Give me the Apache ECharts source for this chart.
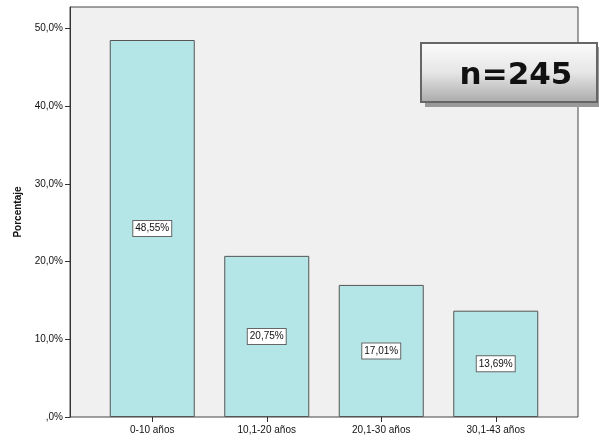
<!DOCTYPE html>
<html><head><meta charset="utf-8">
<script src="https://cdn.jsdelivr.net/npm/echarts@6/dist/echarts.min.js"></script>
<style>html,body{margin:0;padding:0;background:#fff}#c{width:599px;height:440px}</style>
</head><body><div id="c"></div>
<script>
const categories = ['0-10 años', '10,1-20 años', '20,1-30 años', '30,1-43 años'];
const values = [48.55, 20.75, 17.01, 13.69];
const yTicks = [0, 10, 20, 30, 40, 50];
const yTitle = 'Porcentaje';
const nLabel = 'n=245';

const fmt = v => (v === 0 ? '' : String(Math.round(v))) + ',0%';
const yMax = 52.8;
const chart = echarts.init(document.getElementById('c'), null, {renderer: 'canvas'});
chart.setOption({
  animation: false,
  textStyle: {fontFamily: 'Liberation Sans, Arial, sans-serif'},
  grid: [
    {left: 70, right: 21, top: 7, bottom: 23, show: true, backgroundColor: '#f0f0f0', borderColor: '#444', borderWidth: 1},
    {left: 95, right: 46, top: 7, bottom: 23}
  ],
  xAxis: [
    {gridIndex: 0, type: 'value', min: 0, max: 1, show: false},
    {gridIndex: 1, type: 'category', data: categories,
     axisLine: {show: false},
     axisTick: {show: true, alignWithLabel: true, length: 5, lineStyle: {color: '#333'}},
     axisLabel: {color: '#111', fontSize: 10, margin: 8}}
  ],
  yAxis: [
    {gridIndex: 0, type: 'value', min: 0, max: yMax, interval: 10,
     name: yTitle, nameLocation: 'middle', nameGap: 47, nameRotate: 90,
     nameTextStyle: {fontWeight: 'bold', fontSize: 10, color: '#111'},
     axisLine: {show: true, lineStyle: {color: '#333'}},
     axisTick: {show: true, length: 5, lineStyle: {color: '#333'}},
     splitLine: {show: false},
     axisLabel: {color: '#111', fontSize: 10, margin: 7, showMaxLabel: false,
       formatter: v => yTicks.indexOf(v) >= 0 ? fmt(v) : ''}},
    {gridIndex: 1, type: 'value', min: 0, max: yMax, show: false}
  ],
  series: [{
    type: 'bar', xAxisIndex: 1, yAxisIndex: 1, data: values, barWidth: 85,
    itemStyle: {color: '#b4e6e7', borderColor: '#555', borderWidth: 1},
    label: {show: true, position: 'inside', color: '#111', fontSize: 10,
      formatter: p => p.value.toFixed(2).replace('.', ',') + '%',
      backgroundColor: '#fff', borderColor: '#666', borderWidth: 1, padding: [3, 2, 2, 2]}
  }],
  graphic: [
    {type: 'rect', shape: {x: 425, y: 47, width: 176, height: 60}, style: {fill: '#999'}, z: 10},
    {type: 'rect', shape: {x: 421, y: 43, width: 176, height: 59},
     style: {fill: new echarts.graphic.LinearGradient(0, 0, 0, 1, [{offset: 0, color: '#fbfbfb'}, {offset: 0.5, color: '#e6e6e6'}, {offset: 1, color: '#a9a9a9'}]),
       stroke: '#666', lineWidth: 2}, z: 11},
    {type: 'text', x: 516, y: 76, style: {text: nLabel, fill: '#111', font: 'bold 31px "DejaVu Sans", sans-serif', align: 'center', verticalAlign: 'middle'}, z: 12}
  ]
});
</script></body></html>
